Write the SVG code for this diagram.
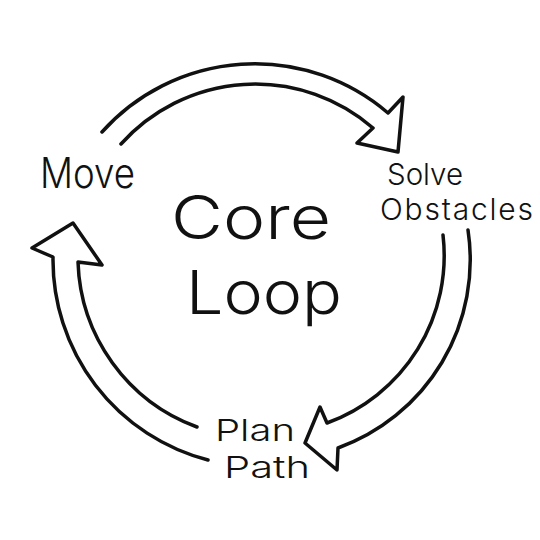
<svg xmlns="http://www.w3.org/2000/svg" width="540" height="540" viewBox="0 0 540 540">
<style>
.arr{fill:none;stroke:#111;stroke-width:3.5;stroke-linejoin:round;stroke-linecap:round}
.t{font-family:Inter,"Liberation Sans","DejaVu Sans",sans-serif;font-weight:300;fill:#111}
</style>
<rect width="540" height="540" fill="#fff"/>
<g id="connectors">
<path class="arr" d="M102,132 A205,205 0 0 1 388,113 L403,97 L398,152 L357,143 L373,128 A180,180 0 0 0 121,144"/>
<path class="arr" d="M468,230 A200,200 0 0 1 338,448 L337,470 L305,443 L320,407 L327,423 A178,178 0 0 0 443,235"/>
<path class="arr" d="M208,460 A207,207 0 0 1 53,257 L32,248 L73,223 L102,265 L78,262 A182,182 0 0 0 197,427"/>
</g>
<g id="core">
<text class="t" x="171" y="239" font-size="60" textLength="160" lengthAdjust="spacingAndGlyphs">Core</text>
<text class="t" x="186" y="314" font-size="60" textLength="156" lengthAdjust="spacingAndGlyphs">Loop</text>
</g>
<g id="move">
<text class="t" x="40" y="188" font-size="42" textLength="95" lengthAdjust="spacingAndGlyphs">Move</text>
</g>
<g id="solve">
<text class="t" x="387" y="185" font-size="30" textLength="76" lengthAdjust="spacingAndGlyphs">Solve</text>
<text class="t" x="380" y="220" font-size="30" textLength="153" lengthAdjust="spacing">Obstacles</text>
</g>
<g id="plan">
<text class="t" x="215" y="441" font-size="30" textLength="80" lengthAdjust="spacingAndGlyphs">Plan</text>
<text class="t" x="224" y="478" font-size="30" textLength="86" lengthAdjust="spacingAndGlyphs">Path</text>
</g>
</svg>
